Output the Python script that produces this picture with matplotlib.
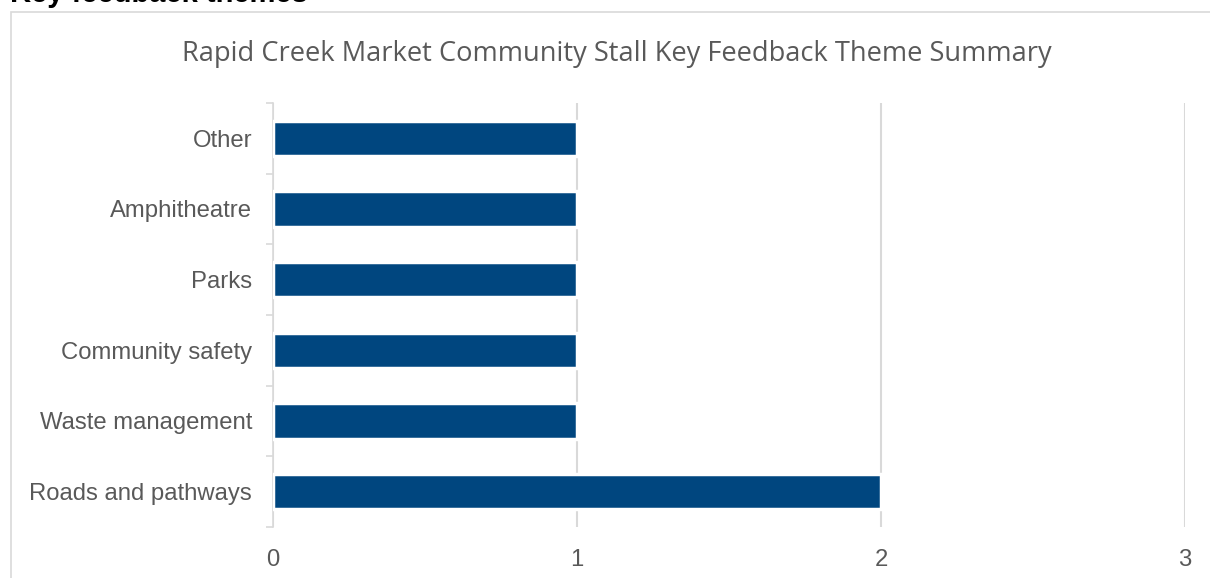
import matplotlib.pyplot as plt
from matplotlib.patches import Rectangle

# Data (bottom to top)
themes = ['Roads and pathways', 'Waste management', 'Community safety',
          'Parks', 'Amphitheatre', 'Other']
counts = [2, 1, 1, 1, 1, 1]
xticks = [0, 1, 2, 3]

bar_color = '#00467F'
text_color = '#595959'
grid_color = '#D9D9D9'

fig = plt.figure(figsize=(12.1, 5.78), dpi=100)

# Outer chart frame
fig.patches.append(Rectangle((11 / 1210, -0.01), 1.0, 1 - 12 / 578 + 0.01,
                             transform=fig.transFigure, facecolor='white',
                             edgecolor=grid_color, linewidth=1.2, zorder=-5))

# Cut-off heading above the chart
fig.text(10 / 1210, 1 - 2.5 / 578, 'Key feedback themes', fontsize=21,
         fontweight='bold', family='Liberation Sans', color='black',
         ha='left', va='baseline')

ax = fig.add_axes([273 / 1210, 1 - 527 / 578, (1185 - 273) / 1210, (527 - 103) / 578])
ax.set_zorder(2)
ax.set_facecolor('none')

y = range(len(themes))
ax.barh(y, counts, height=0.5, color=bar_color, edgecolor='white',
        linewidth=2.5, zorder=3)

ax.set_xlim(0, 3)
ax.set_ylim(-0.5, len(themes) - 0.5)
ax.set_xticks(xticks)
ax.set_yticks(list(y))
ax.set_yticklabels(themes)

ax.grid(axis='x', color=grid_color, linewidth=1.5, zorder=0)
for s in ['top', 'right', 'bottom']:
    ax.spines[s].set_visible(False)
ax.spines['left'].set_color(grid_color)
ax.spines['left'].set_linewidth(1.2)

# ticks between categories on the y axis
ax.set_yticks([i - 0.5 for i in range(len(themes) + 1)], minor=True)
ax.tick_params(axis='y', which='major', length=0, pad=15,
               labelsize=17.2, labelcolor=text_color)
ax.tick_params(axis='y', which='minor', length=5, color=grid_color, width=1.2)
ax.tick_params(axis='x', length=0, pad=16, labelsize=17.2, labelcolor=text_color)
for lab in ax.get_xticklabels() + ax.get_yticklabels():
    lab.set_family('Liberation Sans')

fig.text(617 / 1210, 1 - 54 / 578,
         'Rapid Creek Market Community Stall Key Feedback Theme Summary',
         fontsize=19.6, color=text_color, family='Open Sans',
         ha='center', va='center')

fig.savefig('out.png', dpi=100)
